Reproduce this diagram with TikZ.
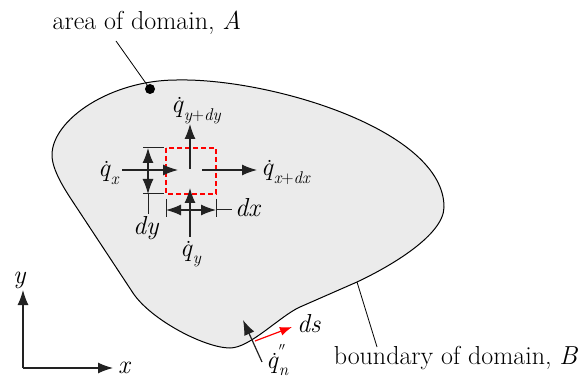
\documentclass[tikz,border=0pt]{standalone}
\usetikzlibrary{arrows.meta}
\definecolor{ink}{HTML}{222222}
\definecolor{domfill}{HTML}{EBEBEB}
\newcommand\qd{\makebox[0pt][l]{\kern0.2em\raisebox{0.5em}{\upshape .}}\textit{q}}
\newcommand\sbs[1]{\raisebox{-0.28em}{\fontsize{17}{17}\selectfont #1}}
\begin{document}
\begin{tikzpicture}[x=1pt,y=-1pt,
  lbl/.style={inner sep=0pt,font=\fontsize{26}{30}\selectfont},
  flux/.style={draw=ink,line width=1.2pt,-{Latex[length=15pt,width=11pt]}},
  dimarr/.style={draw=ink,line width=1.2pt,{Latex[length=15pt,width=11pt]}-{Latex[length=15pt,width=11pt]}},
  thin/.style={draw=ink,line width=1pt},
  leader/.style={draw=black,line width=0.8pt}]
\useasboundingbox (0,0) rectangle (583,379);
% domain
\draw[black,line width=1pt,fill=domfill]
 (52,155) .. controls (52,120) and (110,80) .. (177,80)
 .. controls (270,78) and (444,130) .. (444,207)
 .. controls (444,235) and (390.5,266.3) .. (357,282)
 -- (300,307)
 .. controls (280,316) and (250,348) .. (230,348)
 .. controls (205,348) and (151,320) .. (133,293)
 -- (73,202)
 .. controls (64.8,189.5) and (52,170) .. cycle;
% area label
\node[lbl,anchor=base] (area) at (147,30) {area of domain, \textit{A}};
\coordinate (areastart) at (116,41);
\fill[black] (150,89) circle (5pt) coordinate (dot);
\draw[leader] (areastart) -- (dot);
% element
\draw[red,line width=1.2pt,dash pattern=on 5pt off 3pt] (166,148) rectangle (216,194);
% flux arrows
\coordinate (qxs) at (122,170); \coordinate (qxe) at (178,170);
\coordinate (qxds) at (202,170); \coordinate (qxde) at (257,170);
\coordinate (qyds) at (190,169); \coordinate (qyde) at (190,124);
\coordinate (qys) at (190,237); \coordinate (qye) at (190,188);
\draw[flux] (qxs) -- (qxe);
\draw[flux] (qxds) -- (qxde);
\draw[flux] (qyds) -- (qyde);
\draw[flux] (qys) -- (qye);
% dy dimension
\coordinate (dyt) at (148,148); \coordinate (dyb) at (148,194); \coordinate (dyl) at (148,214);
\draw[thin] (143,148) -- (164,148);
\draw[thin] (143,194) -- (164,194);
\draw[dimarr] (dyt) -- (dyb);
\draw[thin] (dyb) -- (dyl);
% dx dimension
\coordinate (dxl) at (166,210); \coordinate (dxr) at (216,210); \coordinate (dxe) at (232,210);
\draw[thin] (166,199) -- (166,217);
\draw[thin] (216,199) -- (216,217);
\draw[dimarr] (dxl) -- (dxr);
\draw[thin] (dxr) -- (dxe);
% labels
\node[lbl,anchor=base west] (lqyd) at (171,113) {\qd\sbs{\itshape y\upshape+\itshape dy}};
\node[lbl,anchor=base west] (lqxd) at (261,176) {\qd\sbs{\itshape x\upshape+\itshape dx}};
\node[lbl,anchor=base west] (lqx) at (98,177) {\qd\sbs{\itshape x}};
\node[lbl,anchor=base west] (ldx) at (235,217) {\textit{dx}};
\node[lbl,anchor=base west] (ldy) at (133,235) {\textit{dy}};
\node[lbl,anchor=base west] (lqy) at (180,256) {\qd\sbs{\itshape y}};
% boundary flux
\coordinate (qns) at (262,362); \coordinate (qne) at (243,320);
\draw[flux] (qns) -- (qne);
\coordinate (dss) at (255,341); \coordinate (dse) at (292,327);
\draw[red,line width=1.2pt,-{Latex[length=12pt,width=9pt]}] (dss) -- (dse);
\node[lbl,anchor=base west] (lds) at (297,332) {\textit{ds}};
\node[lbl,anchor=base west] (lqn) at (266,368) {\qd\makebox[0pt][l]{\raisebox{0.42em}{\fontsize{16}{16}\selectfont$''$}}\sbs{\itshape n}};
% boundary label
\node[lbl,anchor=base] (bnd) at (456,364) {boundary of domain, \textit{B}};
\coordinate (bs) at (357,282); \coordinate (be) at (377,347);
\draw[leader] (bs) -- (be);
% axes
\coordinate (o) at (23,368); \coordinate (ox) at (113,368); \coordinate (oy) at (23,290);
\draw[flux] (o) -- (ox);
\draw[flux] (o) -- (oy);
\node[lbl,anchor=base west] (lx) at (118,373) {\textit{x}};
\node[lbl,anchor=base west] (ly) at (13,283) {\textit{y}};
\end{tikzpicture}
\end{document}
